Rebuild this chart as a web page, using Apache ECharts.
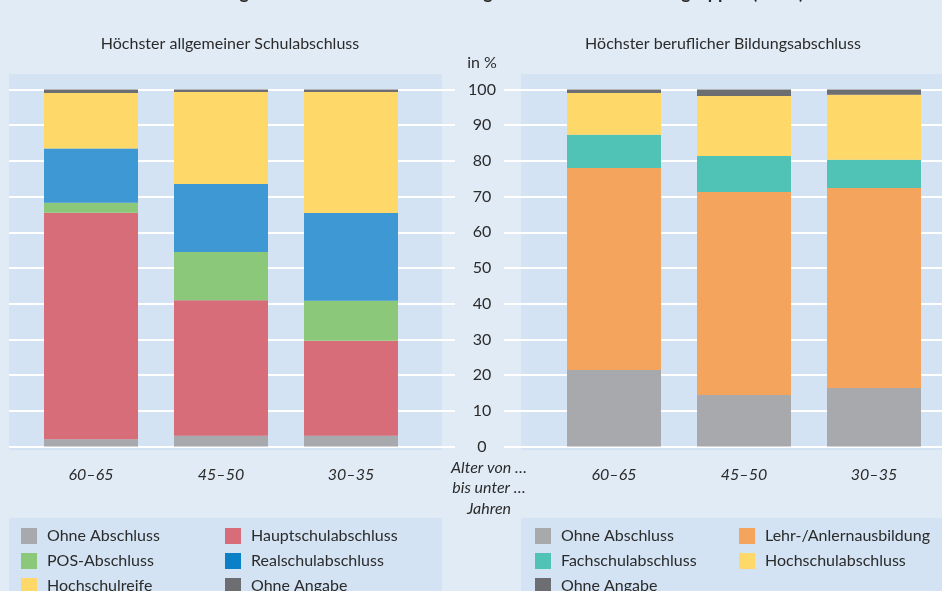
<!DOCTYPE html>
<html>
<head>
<meta charset="utf-8">
<script src="https://cdn.jsdelivr.net/npm/echarts@6/dist/echarts.min.js"></script>
<style>
  html, body { margin: 0; padding: 0; background: #e1ebf6; }
  #chart { width: 942px; height: 591px; }
</style>
</head>
<body>
<div id="chart"></div>
<script>
// Altersgruppen (Alter von ... bis unter ... Jahren)
const ageGroups = ['60–65', '45–50', '30–35'];

// Höchster allgemeiner Schulabschluss, in %
const ohneAbschlussSchule = [2, 3, 3];
const hauptschule = [63.5, 38, 26.6];
const posAbschluss = [2.8, 13.5, 11.2];
const realschule = [15.2, 19, 24.6];
const hochschulreife = [15.5, 25.8, 33.9];
const ohneAngabeSchule = [1, 0.7, 0.7];

// Höchster beruflicher Bildungsabschluss, in %
const ohneAbschlussBeruf = [21.4, 14.4, 16.4];
const lehre = [56.6, 56.9, 56];
const fachschule = [9.3, 10.1, 7.9];
const hochschule = [11.7, 16.8, 18.2];
const ohneAngabeBeruf = [1, 1.8, 1.5];

const FONT = 'Lato, "Noto Sans", sans-serif';
const TXT = '#2b2b2b';

const myChart = echarts.init(document.getElementById('chart'));

function bar(name, data, color, idx) {
  return {
    name: name,
    type: 'bar',
    stack: 'st' + idx,
    xAxisIndex: idx,
    yAxisIndex: idx,
    barWidth: 94,
    data: data,
    itemStyle: { color: color },
  };
}

function legendCol(left, names) {
  return {
    orient: 'vertical',
    left: left,
    top: 528,
    height: 100,
    padding: 0,
    itemWidth: 16,
    itemHeight: 16,
    itemGap: 9,
    icon: 'rect',
    selectedMode: false,
    textStyle: { fontFamily: FONT, fontSize: 16, color: TXT, lineHeight: 16, padding: [0, 0, 0, 5] },
    data: names,
  };
}

const splitY = (idx, showLabel) => ({
  type: 'value',
  gridIndex: idx,
  min: 0,
  max: 100,
  interval: 10,
  position: 'right',
  axisLine: { show: false },
  axisTick: { show: false },
  axisLabel: {
    show: showLabel,
    align: 'center',
    margin: 27,
    fontFamily: FONT,
    fontSize: 16,
    color: TXT,
  },
  splitLine: { lineStyle: { color: '#ffffff', width: 2 } },
});

const barX = (idx) => ({
  type: 'category',
  gridIndex: idx,
  data: ageGroups,
  axisLine: { show: false },
  axisTick: { show: false },
  axisLabel: { margin: 20, fontFamily: FONT, fontSize: 16, fontStyle: 'italic', color: TXT },
});

const barY = (idx) => ({
  type: 'value', gridIndex: idx, min: 0, max: 100, show: false, splitLine: { show: false },
});

const option = {
  animation: false,
  backgroundColor: '#e1ebf6',
  graphic: [
    { type: 'rect', z: -10, shape: { x: 9, y: 74, width: 433, height: 376 }, style: { fill: '#d3e3f3' } },
    { type: 'rect', z: -10, shape: { x: 521, y: 74, width: 421, height: 376 }, style: { fill: '#d3e3f3' } },
    { type: 'rect', z: -10, shape: { x: 9, y: 518, width: 433, height: 80 }, style: { fill: '#d3e3f3' } },
    { type: 'rect', z: -10, shape: { x: 521, y: 518, width: 421, height: 80 }, style: { fill: '#d3e3f3' } },
    { type: 'text', x: 511, y: -7, style: { text: 'Allgemeine und berufliche Bildungsabschlüsse nach Altersgruppen (2019)', font: 'bold 18px ' + FONT, fill: TXT, textAlign: 'center', textVerticalAlign: 'middle' } },
    { type: 'text', x: 230, y: 44, style: { text: 'Höchster allgemeiner Schulabschluss', font: '16px ' + FONT, fill: TXT, textAlign: 'center', textVerticalAlign: 'middle' } },
    { type: 'text', x: 723, y: 44, style: { text: 'Höchster beruflicher Bildungsabschluss', font: '16px ' + FONT, fill: TXT, textAlign: 'center', textVerticalAlign: 'middle' } },
    { type: 'text', x: 482, y: 63, style: { text: 'in %', font: '16px ' + FONT, fill: TXT, textAlign: 'center', textVerticalAlign: 'middle' } },
    { type: 'text', x: 489, y: 488, style: { text: 'Alter von …\nbis unter …\nJahren', font: 'italic 16px ' + FONT, fill: TXT, lineHeight: 20.5, textAlign: 'center', textVerticalAlign: 'middle' } },
  ],
  grid: [
    { left: 9, right: 487, top: 89.5, bottom: 144.5 },
    { left: 504, right: 0, top: 89.5, bottom: 144.5 },
    { left: 26, width: 390, top: 89.5, bottom: 144.5 },
    { left: 549, width: 390, top: 89.5, bottom: 144.5 },
  ],
  xAxis: [
    { type: 'value', gridIndex: 0, show: false, splitLine: { show: false } },
    { type: 'value', gridIndex: 1, show: false, splitLine: { show: false } },
    barX(2),
    barX(3),
  ],
  yAxis: [splitY(0, true), splitY(1, false), barY(2), barY(3)],
  legend: [
    legendCol(21, ['Ohne Abschluss', 'POS-Abschluss', 'Hochschulreife']),
    legendCol(225, ['Hauptschulabschluss', { name: 'Realschulabschluss', itemStyle: { color: '#0a80c6' } }, 'Ohne Angabe']),
    legendCol(535, ['Ohne Abschluss', 'Fachschulabschluss', 'Ohne Angabe']),
    legendCol(739, ['Lehr-/Anlernausbildung', 'Hochschulabschluss']),
  ],
  series: [
    bar('Ohne Abschluss', ohneAbschlussSchule, '#a8a9ad', 2),
    bar('Hauptschulabschluss', hauptschule, '#d66d78', 2),
    bar('POS-Abschluss', posAbschluss, '#8bc87a', 2),
    bar('Realschulabschluss', realschule, '#3d98d3', 2),
    bar('Hochschulreife', hochschulreife, '#ffd86a', 2),
    bar('Ohne Angabe', ohneAngabeSchule, '#6d6e71', 2),
    bar('Ohne Abschluss', ohneAbschlussBeruf, '#a8a9ad', 3),
    bar('Lehr-/Anlernausbildung', lehre, '#f5a45e', 3),
    bar('Fachschulabschluss', fachschule, '#50c2b6', 3),
    bar('Hochschulabschluss', hochschule, '#ffd86a', 3),
    bar('Ohne Angabe', ohneAngabeBeruf, '#6d6e71', 3),
  ],
};

myChart.setOption(option);
</script>
</body>
</html>
